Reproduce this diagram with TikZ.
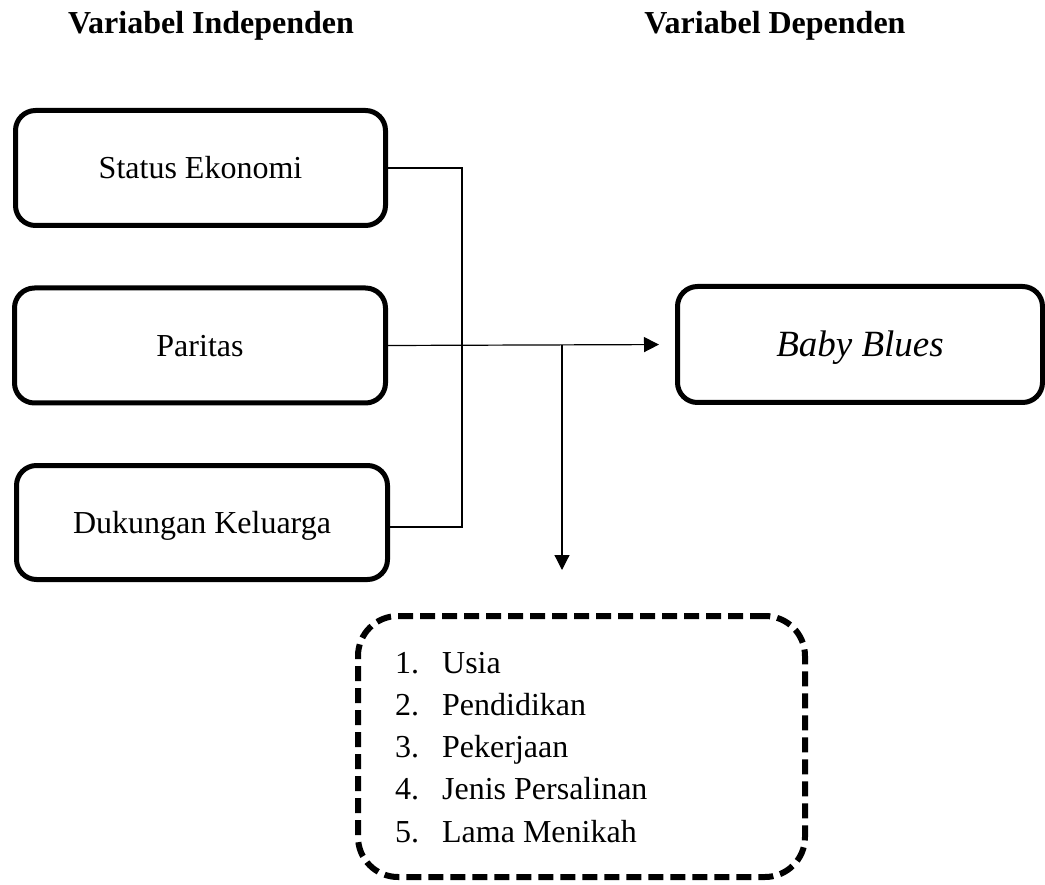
\documentclass[tikz,border=0pt]{standalone}
\usepackage{fontspec}
\setmainfont{Liberation Serif}
\usetikzlibrary{arrows.meta}
\tikzset{
  solidbox/.style={draw, line width=5pt, rounded corners=20pt, inner sep=0pt,
    font=\fontsize{32}{38}\selectfont, text height=22pt, text depth=0pt},
  dashbox/.style={draw, line width=6pt, rounded corners=40pt, inner sep=0pt,
    dash pattern=on 15pt off 7pt},
  conn/.style={line width=1.2pt, black},
  arr/.style={conn, -{Triangle[length=15pt, width=15pt]}},
  headtxt/.style={font=\fontsize{32}{38}\selectfont\bfseries, anchor=base, inner sep=0pt},
  itemtxt/.style={font=\fontsize{32}{38}\selectfont, anchor=base west, inner sep=0pt}
}
\begin{document}
\begin{tikzpicture}[x=1pt, y=-1pt]
\useasboundingbox (0,0) rectangle (1045,885);

% headers
\node[headtxt] (hind) at (211,34) {Variabel Independen};
\node[headtxt] (hdep) at (775,34) {Variabel Dependen};

% independent boxes
\node[solidbox, minimum width=370pt, minimum height=115pt] (b1) at (200.5,168) {Status Ekonomi};
\node[solidbox, minimum width=371pt, minimum height=115pt] (b2) at (200,345.5) {Paritas};
\node[solidbox, minimum width=371pt, minimum height=114pt] (b3) at (202,522.5) {Dukungan Keluarga};

% dependent box
\node[solidbox, minimum width=365pt, minimum height=116pt, text height=25pt,
      font=\fontsize{37}{44}\selectfont\itshape] (bb) at (860,344.5) {Baby Blues};

% confounding box
\node[dashbox, minimum width=447pt, minimum height=261pt] (cf) at (581.5,746.5) {};
\foreach \i/\t [count=\k] in {1/Usia, 2/Pendidikan, 3/Pekerjaan, 4/Jenis Persalinan, 5/Lama Menikah}{
  \node[itemtxt] (item\k) at (395,{673+42.3*(\k-1)}) {\makebox[47pt][l]{\i.}\t};
}

% connectors
\coordinate (vt) at (462,168);
\coordinate (vb) at (462,527);
\coordinate (br) at (562,345.5);
\coordinate (dn) at (562,570);
\draw[conn] (b1.east) -- (vt) -- (vb) -- (b3.east |- vb);
\draw[arr, shorten >=16pt] (b2.east) -- (bb.west);
\draw[arr] (br) -- (dn);
\end{tikzpicture}
\end{document}
